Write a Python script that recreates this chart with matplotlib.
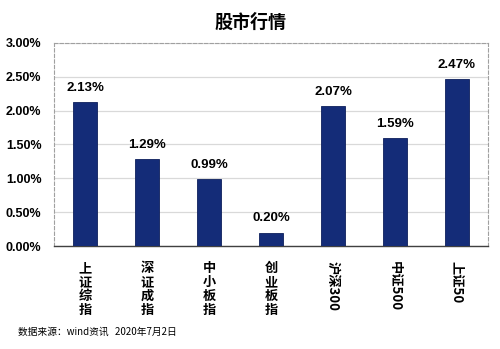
import matplotlib
matplotlib.use('Agg')
import matplotlib.pyplot as plt
from matplotlib.ticker import FuncFormatter

plt.rcParams['font.family'] = ['Liberation Sans', 'Noto Sans CJK SC', 'DejaVu Sans']

categories = ['上\n证\n综\n指', '深\n证\n成\n指', '中\n小\n板\n指', '创\n业\n板\n指',
              '沪深300', '中证500', '上证50']
values = [2.13, 1.29, 0.99, 0.20, 2.07, 1.59, 2.47]
yticks = [0, 0.5, 1.0, 1.5, 2.0, 2.5, 3.0]

fig = plt.figure(figsize=(5, 3.49), dpi=100)
ax = fig.add_axes([0.108, 0.295, 0.868, 0.582])

x = list(range(len(values)))
ax.bar(x, values, width=0.4, color='#142c78', edgecolor='#0d1f5c', linewidth=0.6, zorder=3)
for xi, v in zip(x, values):
    ax.text(xi, v + 0.12, f'{v:.2f}%', ha='center', va='bottom',
            fontsize=9.5, fontweight='bold', zorder=4)

ax.set_xlim(-0.5, len(values) - 0.5)
ax.set_ylim(0, 3.0)
ax.set_yticks(yticks)
ax.yaxis.set_major_formatter(FuncFormatter(lambda v, p: f'{v:.2f}%'))
ax.grid(axis='y', color='#d9d9d9', linewidth=0.9, zorder=0)
ax.tick_params(axis='y', length=0, pad=9, labelsize=9)
for lab in ax.get_yticklabels():
    lab.set_fontweight('bold')

ax.set_xticks(x)
ax.set_xticklabels([])
ax.tick_params(axis='x', length=0)
for xi, lab in zip(x, categories):
    if '\n' in lab:
        ax.text(xi, -0.22, lab, ha='center', va='top', fontsize=9.5, fontweight='bold',
                family=['Noto Sans CJK SC'], linespacing=1.0)
    else:
        ax.text(xi, -0.22, lab, ha='center', va='top', fontsize=9.5, fontweight='bold',
                family=['Noto Sans CJK SC'], rotation=270)

for side in ['left', 'top', 'right']:
    ax.spines[side].set_linestyle((0, (3, 2)))
    ax.spines[side].set_color('#a0a0a0')
    ax.spines[side].set_linewidth(0.8)
ax.spines['bottom'].set_color('#404040')
ax.spines['bottom'].set_linewidth(1.0)

fig.text(0.5, 0.935, '股市行情', ha='center', va='center', fontsize=13,
         fontweight='bold', family=['Noto Sans CJK SC'])
fig.text(0.036, 0.05, '数据来源：wind资讯   2020年7月2日', ha='left', va='center',
         fontsize=7, family=['Noto Sans CJK SC'])

fig.savefig('out.png', dpi=100)
